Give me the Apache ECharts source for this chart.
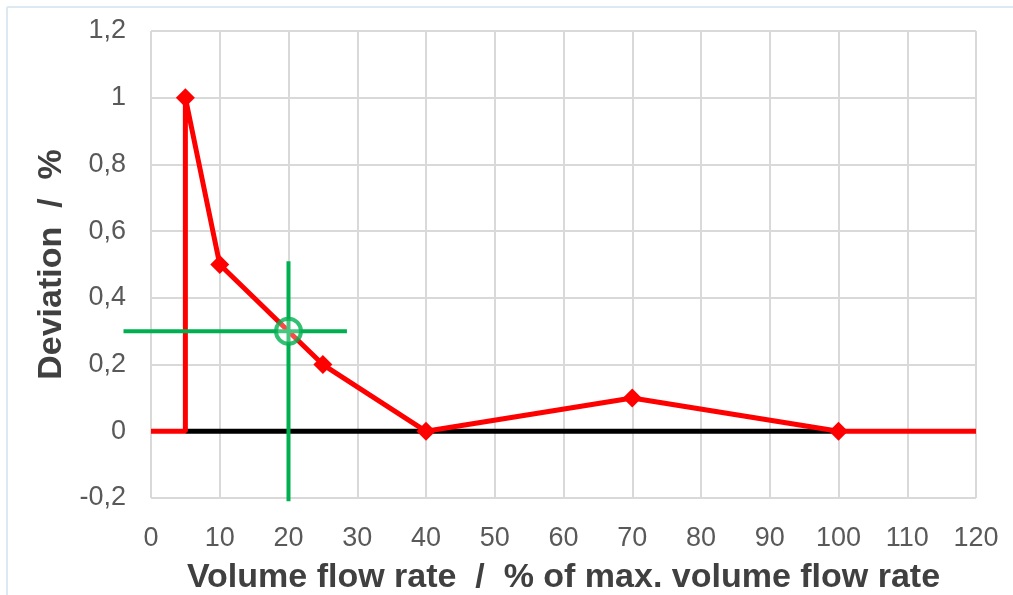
<!DOCTYPE html>
<html>
<head>
<meta charset="utf-8">
<script src="https://cdn.jsdelivr.net/npm/echarts@6/dist/echarts.min.js"></script>
<style>
  html, body { margin: 0; padding: 0; background: #fff; }
  #chart { width: 1013px; height: 595px; }
</style>
</head>
<body>
<div id="chart"></div>
<script>
// deviation curve (x = % of max flow, y = deviation %)
const flowX = [0, 5, 5, 10, 20, 25, 40, 70, 100, 120];
const deviationY = [0, 0, 1, 0.5, 0.3, 0.2, 0, 0.1, 0, 0];
// points with diamond markers
const markedIdx = [2, 3, 5, 6, 7, 8];
// black zero line
const zeroLineX = [5, 100];
// green crosshair at the reading point
const readPoint = [20, 0.3];
const crossHorizX = [-4, 28.5];
const crossVertY = [0.51, -0.21];

const xTicks = { min: 0, max: 120, step: 10 };
const yTicks = { min: -0.2, max: 1.2, step: 0.2 };

const chart = echarts.init(document.getElementById("chart"));

const curve = flowX.map((x, i) => ({
  value: [x, deviationY[i]],
  symbol: markedIdx.includes(i) ? "diamond" : "none"
}));

const fontFam = "Liberation Sans, Arial, sans-serif";
const labelFont = { fontFamily: fontFam, fontSize: 27, color: "#595959" };
const titleFont = { fontFamily: fontFam, fontSize: 34, fontWeight: "bold", color: "#404040" };

// crosshair segments drawn unclipped so the horizontal arm can run past x = 0
const crossSegments = [
  crossHorizX.map(x => [x, readPoint[1]]),
  crossVertY.map(y => [readPoint[0], y])
];

chart.setOption({
  animation: false,
  graphic: [
    { type: "line", shape: { x1: 7, y1: 7, x2: 1013, y2: 7 }, style: { stroke: "#dce9f1", lineWidth: 2 } },
    { type: "line", shape: { x1: 7, y1: 7, x2: 7, y2: 595 }, style: { stroke: "#dce9f1", lineWidth: 2 } }
  ],
  grid: { left: 151, right: 37, top: 31, bottom: 97, containLabel: false, outerBoundsMode: "none" },
  xAxis: {
    type: "value",
    min: xTicks.min,
    max: xTicks.max,
    interval: xTicks.step,
    name: "Volume flow rate  /  % of max. volume flow rate",
    nameLocation: "middle",
    nameGap: 63,
    nameTextStyle: titleFont,
    axisLine: { show: false },
    axisTick: { show: false },
    axisLabel: Object.assign({ margin: 27 }, labelFont),
    splitLine: { show: true, lineStyle: { color: "#d9d9d9", width: 2 } }
  },
  yAxis: {
    type: "value",
    min: yTicks.min,
    max: yTicks.max,
    interval: yTicks.step,
    name: "Deviation  /  %",
    nameLocation: "middle",
    nameGap: 82,
    nameTextStyle: titleFont,
    axisLine: { show: false },
    axisTick: { show: false },
    axisLabel: Object.assign({
      margin: 25,
      formatter: v => String(Math.round(v * 10) / 10).replace(".", ",")
    }, labelFont),
    splitLine: { show: true, lineStyle: { color: "#d9d9d9", width: 2 } }
  },
  series: [
    {
      type: "line",
      data: zeroLineX.map(x => [x, 0]),
      symbol: "none",
      lineStyle: { color: "#000000", width: 5 },
      z: 2
    },
    {
      type: "line",
      data: curve,
      symbolSize: 19,
      lineStyle: { color: "#ff0000", width: 5 },
      itemStyle: { color: "#ff0000" },
      z: 3
    },
    {
      type: "custom",
      data: crossSegments.map((seg, i) => [i]),
      clip: false,
      z: 4,
      renderItem: (params, api) => {
        const seg = crossSegments[api.value(0)];
        const p1 = api.coord(seg[0]);
        const p2 = api.coord(seg[1]);
        return {
          type: "line",
          shape: { x1: p1[0], y1: p1[1], x2: p2[0], y2: p2[1] },
          style: { stroke: "#00b050", lineWidth: 4 }
        };
      }
    },
    {
      type: "scatter",
      data: [readPoint],
      symbol: "circle",
      symbolSize: 25,
      itemStyle: { color: "rgba(255,255,255,0.35)", borderColor: "#00b050", borderWidth: 4 },
      z: 5
    }
  ]
});
</script>
</body>
</html>
